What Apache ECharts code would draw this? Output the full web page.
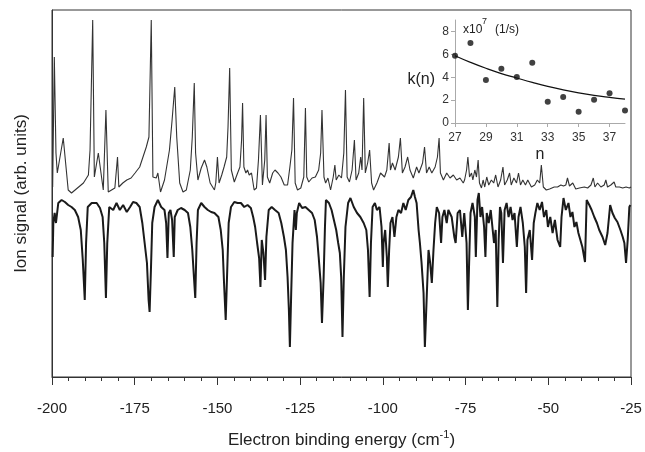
<!DOCTYPE html>
<html>
<head>
<meta charset="utf-8">
<script src="https://cdn.jsdelivr.net/npm/echarts@6/dist/echarts.min.js"></script>
<style>
html,body{margin:0;padding:0;background:#fff;}
#c{width:645px;height:452px;}
</style>
</head>
<body>
<div id="c"></div>
<script>
// Main spectrum: x = electron binding energy (cm^-1), y = ion signal (arb. units)
const xTicks = [-200, -175, -150, -125, -100, -75, -50, -25];

const upperTrace = [
[-199.8,190],[-199.3,320],[-198.8,224],[-198.4,204],[-196.6,239],[-195.1,187],[-194.1,184],[-190.5,194],[-189.0,202],[-188.5,227],[-187.7,357],[-187.2,200],[-186.0,224],[-184.5,187],[-183.7,267],[-183.0,185],[-181.0,189],[-180.2,220],[-179.8,190],[-178.6,194],[-177.4,197],[-176.1,199],[-174.9,204],[-173.5,210],[-171.5,230],[-170.7,240],[-170.0,357],[-169.5,200],[-169.0,202],[-168.5,199],[-168.0,204],[-167.2,185],[-166.0,197],[-164.5,227],[-163.7,257],[-162.9,290],[-162.3,240],[-161.4,194],[-160.4,185],[-159.4,187],[-158.2,207],[-157.6,240],[-157.0,294],[-156.6,224],[-155.9,197],[-154.9,209],[-153.9,217],[-153.2,210],[-152.2,194],[-150.9,187],[-150.5,194],[-150.0,220],[-149.5,194],[-148.7,202],[-148.0,210],[-147.2,220],[-146.8,250],[-146.3,309],[-145.8,207],[-144.9,195],[-143.9,204],[-143.2,210],[-142.7,237],[-142.4,274],[-142.0,210],[-141.4,204],[-140.9,207],[-140.4,202],[-139.7,204],[-138.9,187],[-138.2,189],[-137.6,217],[-137.0,262],[-136.4,192],[-135.7,217],[-135.3,262],[-134.9,200],[-134.2,194],[-133.3,204],[-132.6,207],[-131.7,204],[-130.8,200],[-129.8,192],[-128.8,192],[-128.1,210],[-127.5,227],[-127.0,279],[-126.5,194],[-125.8,187],[-124.8,189],[-124.4,190],[-123.9,200],[-123.4,269],[-123.0,200],[-122.4,195],[-121.4,199],[-120.4,200],[-119.4,207],[-118.8,224],[-118.4,267],[-117.8,200],[-117.3,194],[-116.6,199],[-115.8,187],[-115.0,200],[-114.5,212],[-114.1,197],[-113.3,202],[-112.5,199],[-111.8,224],[-111.3,287],[-110.8,200],[-110.1,195],[-109.3,207],[-108.6,237],[-108.1,197],[-107.3,204],[-106.7,220],[-106.3,207],[-105.8,279],[-105.3,204],[-104.6,214],[-104.0,227],[-103.4,194],[-102.8,187],[-101.8,194],[-100.7,204],[-99.5,200],[-98.8,207],[-98.1,234],[-97.7,207],[-97.1,214],[-96.3,207],[-95.3,220],[-94.7,239],[-94.1,204],[-93.3,210],[-92.5,220],[-91.8,207],[-90.8,199],[-89.8,210],[-89.1,204],[-88.0,214],[-87.4,230],[-86.8,204],[-86.0,210],[-85.2,204],[-84.2,210],[-83.5,220],[-83.0,239],[-82.6,204],[-81.7,197],[-80.7,204],[-79.7,199],[-78.7,202],[-77.7,197],[-76.7,199],[-75.7,194],[-75.3,197],[-74.7,207],[-74.3,220],[-73.8,200],[-73.2,204],[-72.8,197],[-72.2,207],[-71.7,200],[-71.2,217],[-70.8,194],[-70.2,189],[-69.7,197],[-69.2,190],[-68.6,200],[-68.0,192],[-67.2,197],[-66.5,194],[-65.9,202],[-65.2,190],[-64.4,197],[-63.7,210],[-63.2,192],[-62.4,197],[-61.7,204],[-61.2,192],[-60.4,199],[-59.6,194],[-59.0,204],[-58.4,192],[-57.7,197],[-56.9,192],[-56.2,197],[-55.1,190],[-54.1,192],[-53.3,197],[-52.6,194],[-52.1,212],[-51.5,190],[-50.6,187],[-49.6,188],[-49.2,189],[-48.2,190],[-47.2,190],[-46.2,192],[-45.4,191],[-44.7,192],[-44.2,199],[-43.6,191],[-42.6,194],[-41.7,188],[-40.6,189],[-39.1,190],[-38.1,189],[-37.1,192],[-36.4,199],[-35.9,190],[-35.1,194],[-34.1,190],[-33.1,192],[-32.6,197],[-32.1,190],[-31.1,192],[-30.1,195],[-29.6,190],[-28.5,190],[-27.5,189],[-26.5,190],[-25.5,189],[-25.0,190]
];

const lowerTrace = [
[-199.8,120],[-199.6,154],[-199.2,164],[-198.8,154],[-198.1,174],[-197.1,177],[-196.1,175],[-195.1,172],[-194.1,170],[-193.1,167],[-192.1,160],[-191.3,147],[-190.7,117],[-190.1,77],[-189.7,134],[-189.2,170],[-188.0,174],[-186.5,174],[-185.5,169],[-184.7,160],[-184.2,134],[-183.7,79],[-183.3,134],[-182.7,170],[-181.5,167],[-180.5,174],[-179.5,167],[-178.5,172],[-177.4,165],[-176.4,170],[-175.5,175],[-174.5,174],[-173.5,170],[-172.7,154],[-172.0,134],[-171.3,114],[-170.8,77],[-170.5,65],[-170.1,107],[-169.7,154],[-169.0,170],[-168.0,177],[-167.0,170],[-166.0,167],[-165.5,154],[-165.1,119],[-164.7,164],[-164.2,167],[-163.7,157],[-163.2,120],[-162.9,160],[-162.0,167],[-161.0,169],[-159.9,167],[-158.9,164],[-158.2,150],[-157.6,127],[-157.1,100],[-156.7,79],[-156.3,134],[-155.9,167],[-154.9,174],[-153.9,170],[-152.9,167],[-151.9,165],[-150.9,164],[-149.7,160],[-149.0,147],[-148.4,127],[-148.0,94],[-147.5,57],[-147.1,100],[-146.6,154],[-145.9,170],[-144.9,175],[-143.9,174],[-142.9,174],[-141.9,170],[-140.9,172],[-139.9,169],[-139.2,160],[-138.6,150],[-138.0,134],[-137.4,119],[-137.0,90],[-136.6,137],[-136.1,124],[-135.6,97],[-135.2,140],[-134.5,167],[-133.6,170],[-132.6,167],[-131.5,164],[-130.7,154],[-129.9,140],[-129.3,127],[-128.8,100],[-128.4,67],[-128.1,30],[-127.7,84],[-127.3,134],[-126.7,167],[-126.3,147],[-126.0,164],[-125.3,174],[-124.4,169],[-123.4,170],[-122.4,167],[-121.4,164],[-120.6,157],[-119.9,140],[-119.4,120],[-118.8,94],[-118.4,54],[-117.9,100],[-117.5,150],[-117.2,177],[-116.3,174],[-115.5,167],[-114.8,157],[-114.1,147],[-113.5,134],[-113.0,124],[-112.6,100],[-112.2,40],[-111.8,100],[-111.3,150],[-110.5,174],[-109.8,179],[-108.8,170],[-107.8,164],[-106.8,160],[-105.8,154],[-105.0,147],[-104.5,127],[-104.0,80],[-103.6,134],[-103.1,170],[-102.4,174],[-101.8,167],[-101.0,170],[-100.4,150],[-100.0,110],[-99.8,134],[-99.3,147],[-98.8,120],[-98.5,90],[-98.1,127],[-97.7,154],[-97.1,160],[-96.5,140],[-95.9,160],[-95.3,167],[-94.5,164],[-93.8,174],[-93.1,167],[-92.3,177],[-91.5,180],[-90.8,187],[-90.3,180],[-89.8,174],[-89.2,147],[-88.8,134],[-88.3,114],[-87.7,84],[-87.3,30],[-86.7,84],[-86.2,127],[-85.7,114],[-85.2,94],[-84.7,127],[-84.2,154],[-83.7,170],[-83.0,164],[-82.4,134],[-82.0,160],[-81.4,167],[-80.7,154],[-80.2,167],[-79.2,160],[-78.4,140],[-78.0,134],[-77.4,164],[-76.7,167],[-76.0,140],[-75.4,164],[-74.7,134],[-74.3,67],[-73.8,130],[-73.5,164],[-72.9,174],[-72.2,160],[-71.9,120],[-71.4,177],[-71.0,184],[-70.5,160],[-70.0,170],[-69.4,150],[-69.0,120],[-68.6,164],[-68.0,154],[-67.4,167],[-66.8,147],[-66.4,134],[-65.9,147],[-65.4,70],[-65.0,137],[-64.6,170],[-64.2,164],[-63.7,114],[-63.2,167],[-62.6,174],[-62.0,160],[-61.4,170],[-60.8,157],[-60.2,164],[-59.5,130],[-59.0,160],[-58.4,170],[-57.7,154],[-57.1,130],[-56.7,84],[-56.3,137],[-55.6,147],[-54.9,117],[-54.4,154],[-53.9,164],[-53.3,174],[-52.6,167],[-51.9,175],[-51.3,160],[-50.6,167],[-50.1,150],[-49.4,160],[-48.7,144],[-48.0,157],[-47.2,137],[-46.4,130],[-46.0,160],[-45.4,179],[-44.7,167],[-43.9,174],[-43.3,160],[-42.7,165],[-42.1,150],[-41.5,155],[-40.9,144],[-40.3,137],[-39.7,130],[-38.9,115],[-38.4,177],[-37.6,172],[-36.9,167],[-36.1,160],[-35.3,154],[-34.6,147],[-33.6,140],[-32.8,132],[-32.1,144],[-31.3,172],[-30.6,164],[-29.9,159],[-29.1,155],[-28.2,147],[-27.5,140],[-27.0,134],[-26.5,114],[-26.0,137],[-25.5,170],[-25.2,172]
];

// Inset: decay rate k(n) (x10^7 1/s) vs principal quantum number n
const nValues = [27, 28, 29, 30, 31, 32, 33, 34, 35, 36, 37, 38];
const kValues = [5.88, 6.99, 3.75, 4.74, 4.02, 5.27, 1.86, 2.27, 0.99, 2.03, 2.59, 1.10];
const kFit    = [5.88, 5.30, 4.78, 4.32, 3.93, 3.55, 3.20, 2.90, 2.64, 2.42, 2.24, 2.08];
const nTickLabels = [27, 29, 31, 33, 35, 37];
const kTickLabels = [0, 2, 4, 6, 8];

const FONT = '"Liberation Sans", Arial, sans-serif';
const chart = echarts.init(document.getElementById('c'), null, {renderer: 'canvas'});

const option = {
  animation: false,
  backgroundColor: '#ffffff',
  textStyle: {fontFamily: FONT},
  grid: [
    {left: 52, right: 14, top: 10, bottom: 75, show: true, borderColor: '#333', borderWidth: 1,
     backgroundColor: 'transparent', containLabel: false, outerBoundsMode: 'none'},
    {left: 455, top: 20, width: 170, height: 103, containLabel: false, outerBoundsMode: 'none'}
  ],
  xAxis: [
    {
      gridIndex: 0, type: 'value', min: xTicks[0], max: xTicks[xTicks.length - 1], interval: 25,
      axisLine: {show: true, lineStyle: {color: '#333', width: 1}},
      axisTick: {show: true, length: 8, lineStyle: {color: '#333'}},
      minorTick: {show: true, splitNumber: 5, length: 4, lineStyle: {color: '#333'}},
      splitLine: {show: false},
      axisLabel: {fontSize: 15, color: '#222', margin: 24, fontFamily: FONT},
      name: '{a|Electron binding energy (cm}{s|-1}{a|)}',
      nameLocation: 'middle', nameGap: 52,
      nameTextStyle: {
        fontFamily: FONT,
        rich: {
          a: {fontSize: 17, color: '#222', fontFamily: FONT, lineHeight: 20, verticalAlign: 'bottom'},
          s: {fontSize: 11, color: '#222', fontFamily: FONT, verticalAlign: 'top', lineHeight: 12}
        }
      }
    },
    {
      gridIndex: 1, type: 'value', min: 27, max: 38,
      axisLine: {show: true, lineStyle: {color: '#aaa', width: 1}},
      axisTick: {show: true, customValues: nTickLabels, length: 4, lineStyle: {color: '#aaa'}},
      axisLabel: {customValues: nTickLabels, fontSize: 12, color: '#333', margin: 9, fontFamily: FONT},
      splitLine: {show: false},
      name: 'n', nameLocation: 'middle', nameGap: 24,
      nameTextStyle: {fontSize: 16, color: '#222', fontFamily: FONT}
    }
  ],
  yAxis: [
    {
      gridIndex: 0, type: 'value', min: 0, max: 367,
      axisLine: {show: true, lineStyle: {color: '#333', width: 1}},
      axisTick: {show: false}, axisLabel: {show: false}, splitLine: {show: false},
      name: 'Ion signal (arb. units)', nameLocation: 'middle', nameGap: 22,
      nameTextStyle: {fontSize: 17, color: '#222', fontFamily: FONT}
    },
    {
      gridIndex: 1, type: 'value', min: 0, max: 9,
      axisLine: {show: true, lineStyle: {color: '#aaa', width: 1}},
      axisTick: {show: true, customValues: kTickLabels, length: 4, lineStyle: {color: '#aaa'}},
      axisLabel: {customValues: kTickLabels, fontSize: 12, color: '#333', margin: 6, fontFamily: FONT},
      splitLine: {show: false},
      name: 'k(n)', nameLocation: 'middle', nameGap: 20, nameRotate: 0,
      nameTextStyle: {fontSize: 16, color: '#222', fontFamily: FONT, verticalAlign: 'top'}
    }
  ],
  graphic: [
    {type: 'text', left: 463, top: 24, style: {text: 'x10', fontSize: 12, fill: '#222', font: '12px ' + FONT}},
    {type: 'text', left: 482, top: 17, style: {text: '7', fontSize: 9, fill: '#222', font: '9px ' + FONT}},
    {type: 'text', left: 495, top: 24, style: {text: '(1/s)', fontSize: 12, fill: '#222', font: '12px ' + FONT}}
  ],
  series: [
    {
      name: 'upper', type: 'line', xAxisIndex: 0, yAxisIndex: 0, data: upperTrace,
      showSymbol: false, symbol: 'none', silent: true,
      lineStyle: {color: '#333', width: 1.1}
    },
    {
      name: 'lower', type: 'line', xAxisIndex: 0, yAxisIndex: 0, data: lowerTrace,
      showSymbol: false, symbol: 'none', silent: true,
      lineStyle: {color: '#1a1a1a', width: 2}
    },
    {
      name: 'fit', type: 'line', xAxisIndex: 1, yAxisIndex: 1,
      data: nValues.map((n, i) => [n, kFit[i]]),
      smooth: true, showSymbol: false, symbol: 'none', silent: true,
      lineStyle: {color: '#111', width: 1.2}
    },
    {
      name: 'k', type: 'scatter', xAxisIndex: 1, yAxisIndex: 1,
      data: nValues.map((n, i) => [n, kValues[i]]),
      symbol: 'circle', symbolSize: 6, silent: true,
      itemStyle: {color: '#111'}
    }
  ]
};
chart.setOption(option);
</script>
</body>
</html>
